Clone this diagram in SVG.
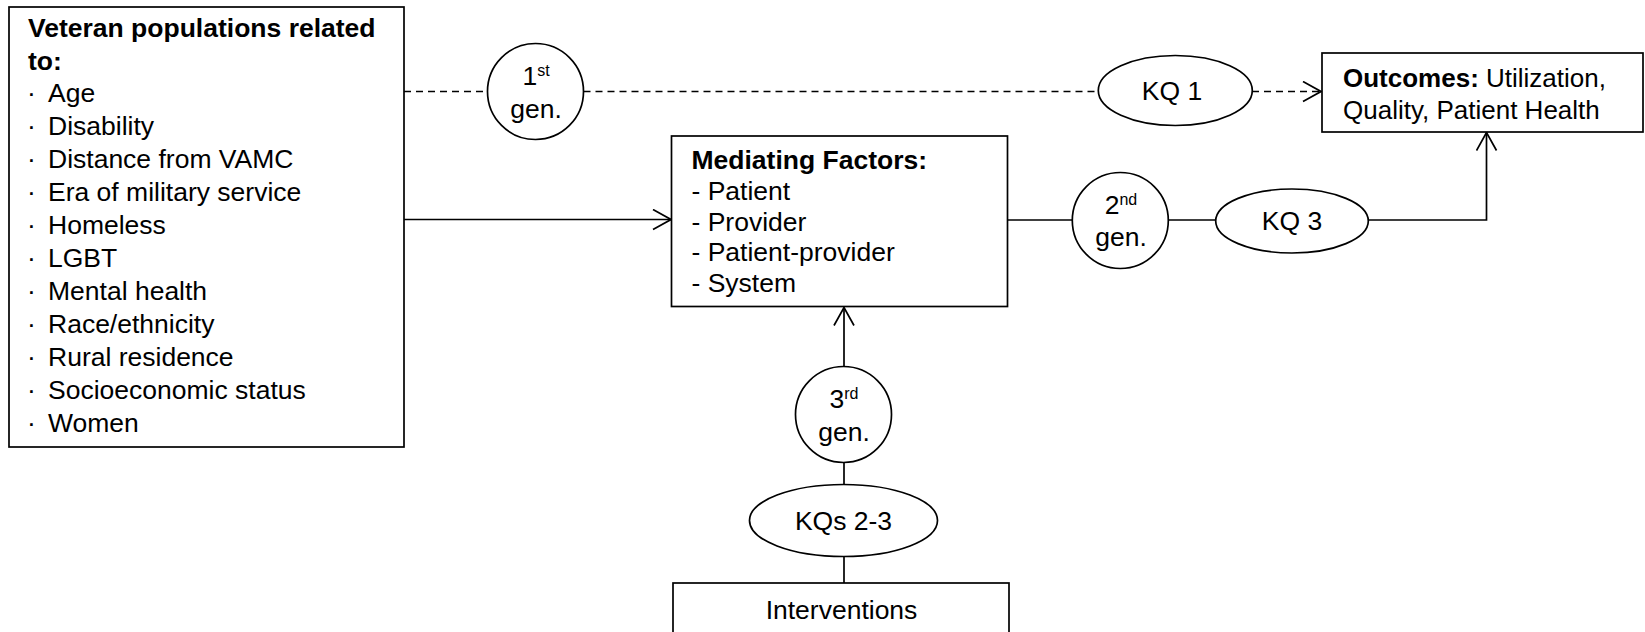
<svg xmlns="http://www.w3.org/2000/svg" width="1645" height="632" viewBox="0 0 1645 632">
<style>
  .box { fill: #fff; stroke: #000; stroke-width: 1.7; }
  .shape { fill: #fff; stroke: #000; stroke-width: 1.7; }
  .conn { fill: none; stroke: #000; stroke-width: 1.7; }
  .dash { stroke-dasharray: 7 5; }
  text { font-family: "Liberation Sans", Arial, sans-serif; font-size: 26.5px; fill: #000; }
  .b { font-weight: bold; }
  .mid { text-anchor: middle; }
  .sup { font-size: 16px; }
  .o { font-size: 26px; }
</style>
<defs>
  <marker id="arr" viewBox="0 0 20 22" refX="19" refY="11" markerWidth="20" markerHeight="22" markerUnits="userSpaceOnUse" orient="auto">
    <path d="M1,1 L19,11 L1,21" fill="none" stroke="#000" stroke-width="1.7" stroke-dasharray="none"/>
  </marker>
</defs>
<rect width="1645" height="632" fill="#fff"/>

<g id="connectors">
  <line class="conn dash" x1="404" y1="91.5" x2="487.5" y2="91.5"/>
  <line class="conn dash" x1="583.5" y1="91.5" x2="1098.5" y2="91.5"/>
  <line class="conn dash" x1="1252" y1="91.5" x2="1321" y2="91.5" marker-end="url(#arr)"/>
  <line class="conn" x1="404" y1="219.5" x2="671" y2="219.5" marker-end="url(#arr)"/>
  <line class="conn" x1="1007.5" y1="220" x2="1072.5" y2="220"/>
  <line class="conn" x1="1168" y1="220" x2="1216" y2="220"/>
  <polyline class="conn" points="1368,220 1486.5,220 1486.5,132.5" marker-end="url(#arr)"/>
  <line class="conn" x1="844" y1="366.5" x2="844" y2="307.5" marker-end="url(#arr)"/>
  <line class="conn" x1="844" y1="462.5" x2="844" y2="484.5"/>
  <line class="conn" x1="844" y1="556.5" x2="844" y2="583"/>
</g>

<g id="populations">
  <rect class="box" x="9" y="7" width="395" height="440"/>
  <text class="b" x="28" y="37">Veteran populations related</text>
  <text class="b" x="28" y="70">to:</text>
  <text y="102"><tspan x="27">·</tspan><tspan x="48">Age</tspan></text>
  <text y="135"><tspan x="27">·</tspan><tspan x="48">Disability</tspan></text>
  <text y="168"><tspan x="27">·</tspan><tspan x="48">Distance from VAMC</tspan></text>
  <text y="201"><tspan x="27">·</tspan><tspan x="48">Era of military service</tspan></text>
  <text y="234"><tspan x="27">·</tspan><tspan x="48">Homeless</tspan></text>
  <text y="267"><tspan x="27">·</tspan><tspan x="48">LGBT</tspan></text>
  <text y="300"><tspan x="27">·</tspan><tspan x="48">Mental health</tspan></text>
  <text y="333"><tspan x="27">·</tspan><tspan x="48">Race/ethnicity</tspan></text>
  <text y="366"><tspan x="27">·</tspan><tspan x="48">Rural residence</tspan></text>
  <text y="399"><tspan x="27">·</tspan><tspan x="48">Socioeconomic status</tspan></text>
  <text y="432"><tspan x="27">·</tspan><tspan x="48">Women</tspan></text>
</g>

<g id="gen1">
  <circle class="shape" cx="535.5" cy="91.5" r="48"/>
  <text class="mid" x="536" y="85">1<tspan class="sup" dy="-9">st</tspan></text>
  <text class="mid" x="536" y="118">gen.</text>
</g>

<g id="kq1">
  <ellipse class="shape" cx="1175.3" cy="90.5" rx="77" ry="35"/>
  <text class="mid" x="1172" y="100">KQ 1</text>
</g>

<g id="outcomes">
  <rect class="box" x="1322" y="53" width="321" height="79"/>
  <text class="o" x="1343" y="86.5"><tspan class="b">Outcomes:</tspan> Utilization,</text>
  <text class="o" x="1343" y="118.5">Quality, Patient Health</text>
</g>

<g id="mediating">
  <rect class="box" x="671.5" y="136" width="336" height="170.5"/>
  <text class="b" x="691.5" y="168.5">Mediating Factors:</text>
  <text x="691.5" y="200">- Patient</text>
  <text x="691.5" y="230.5">- Provider</text>
  <text x="691.5" y="261">- Patient-provider</text>
  <text x="691.5" y="291.5">- System</text>
</g>

<g id="gen2">
  <circle class="shape" cx="1120.3" cy="220.5" r="48"/>
  <text class="mid" x="1121" y="214">2<tspan class="sup" dy="-9">nd</tspan></text>
  <text class="mid" x="1121" y="246">gen.</text>
</g>

<g id="kq3">
  <ellipse class="shape" cx="1292" cy="221" rx="76.3" ry="32"/>
  <text class="mid" x="1292" y="229.5">KQ 3</text>
</g>

<g id="gen3">
  <circle class="shape" cx="843.5" cy="414.5" r="48"/>
  <text class="mid" x="844" y="408">3<tspan class="sup" dy="-9">rd</tspan></text>
  <text class="mid" x="844" y="441">gen.</text>
</g>

<g id="kq23">
  <ellipse class="shape" cx="843.5" cy="520.5" rx="94" ry="36"/>
  <text class="mid" x="843.5" y="529.5">KQs 2-3</text>
</g>

<g id="interventions">
  <rect class="box" x="673" y="583" width="336" height="60"/>
  <text class="mid" x="841.5" y="618.5">Interventions</text>
</g>
</svg>
